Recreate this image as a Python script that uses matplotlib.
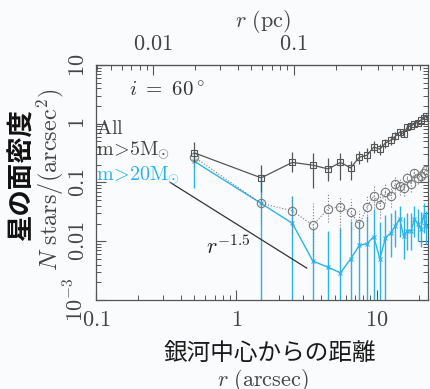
import matplotlib
matplotlib.use("Agg")
import matplotlib.pyplot as plt
import numpy as np
from matplotlib.ticker import FixedLocator, FixedFormatter, LogLocator, NullFormatter

plt.rcParams['mathtext.fontset'] = 'cm'

# Radial bins (arcsec)
r = [0.5, 1.5, 2.5, 3.5, 4.5, 5.5, 6.5, 7.5, 8.5, 9.5, 10.5, 11.5,
     12.5, 13.5, 14.5, 15.5, 16.5, 17.5, 18.5, 19.5, 20.5, 21.5, 22.5]

# All stars
all_n = [0.32, 0.12, 0.22, 0.197, 0.17, 0.22, 0.177, 0.27, 0.29, 0.40, 0.37, 0.47,
         0.52, 0.61, 0.72, 0.68, 0.88, 0.92, 1.0, 1.05, 1.14, 1.25, 1.37]
all_hi = [0.48, 0.20, 0.335, 0.32, 0.265, 0.32, 0.23, 0.34, 0.38, 0.50, 0.46, 0.56,
          0.62, 0.71, 0.83, 0.78, 0.99, 1.03, 1.11, 1.16, 1.25, 1.36, 1.48]
all_lo = [0.22, 0.07, 0.148, 0.082, 0.105, 0.11, 0.11, 0.21, 0.22, 0.32, 0.29, 0.39,
          0.43, 0.52, 0.62, 0.59, 0.78, 0.82, 0.90, 0.95, 1.04, 1.15, 1.27]

# m > 5 Msun
m5_n = [0.27, 0.044, 0.033, 0.0187, 0.036, 0.039, 0.031, 0.0194, 0.038, 0.060, 0.042, 0.068,
        0.059, 0.094, 0.087, 0.081, 0.117, 0.095, 0.146, 0.12, 0.128, 0.146, 0.166]
m5_hi = [0.36, 0.075, 0.06, 0.045, 0.063, 0.06, 0.052, 0.033, 0.06, 0.087, 0.065, 0.095,
         0.082, 0.125, 0.115, 0.105, 0.145, 0.12, 0.175, 0.145, 0.155, 0.172, 0.19]
m5_lo = [0.19, 0.02, 0.014, 0.006, 0.021, 0.012, 0.016, 0.0115, 0.022, 0.037, 0.025, 0.045,
         0.038, 0.066, 0.062, 0.058, 0.088, 0.07, 0.115, 0.094, 0.102, 0.12, 0.142]

# m > 20 Msun
m20_n = [0.23, 0.044, 0.0202, 0.0046, 0.0036, 0.0029, 0.005, 0.0085, 0.0091, 0.012, 0.005, 0.0115,
         0.0137, 0.018, 0.024, 0.0123, 0.015, 0.015, 0.024, 0.020, 0.0164, 0.027, 0.018]
m20_hi = [0.27, 0.12, 0.059, 0.017, 0.015, 0.017, 0.022, 0.022, 0.027, 0.035, 0.021, 0.028,
          0.030, 0.034, 0.040, 0.026, 0.030, 0.030, 0.040, 0.035, 0.031, 0.045, 0.033]
m20_lo = [0.081, 0, 0, 0, 0, 0, 0, 0, 0, 0, 0, 0,
          0.0055, 0.008, 0.012, 0.005, 0.007, 0.007, 0.012, 0.010, 0.008, 0.014, 0.009]

# r^-1.5 reference slope
slope_r = [0.338, 3.16]
slope_n0 = 0.1

pc_per_arcsec = 0.0392

gray = '#555555'
lgray = '#7a7a7a'
cyan = '#2bb3ec'
txt = '#444444'
fs = 16


def err(n, lo, hi):
    n = np.array(n)
    return [n - np.array(lo), np.array(hi) - n]


def style_ticks(a):
    a.tick_params(which='both', direction='in', color=gray, labelcolor=txt, labelsize=fs)
    a.tick_params(which='major', length=7, width=0.8)
    a.tick_params(which='minor', length=3.5, width=0.7)


fig = plt.figure(figsize=(4.3, 3.89), dpi=100, facecolor='#fafbfc')
ax = fig.add_axes([0.2233, 0.2288, 0.7720, 0.6041])
ax.set_facecolor('#fafbfc')
ax.set_xscale('log')
ax.set_yscale('log')

# m>20: cyan with crosses
ax.errorbar(r, m20_n, yerr=err(m20_n, m20_lo, m20_hi), color=cyan, lw=1.0,
            marker='x', ms=3, mew=0.8, elinewidth=1.0, capsize=0, zorder=2)

# m>5: dotted with open circles
e2 = ax.errorbar(r, m5_n, yerr=err(m5_n, m5_lo, m5_hi), color=lgray, lw=0.8, ls=':',
                 marker='o', ms=6, mfc='none', mew=0.8, elinewidth=0.8, capsize=0, zorder=3)
e2[2][0].set_linestyle(':')

# all stars: solid with open squares
ax.errorbar(r, all_n, yerr=err(all_n, all_lo, all_hi), color=gray, lw=0.9,
            marker='s', ms=4, mfc='none', mew=0.8, elinewidth=0.9, capsize=0, zorder=4)

rs = np.array(slope_r)
ax.plot(rs, slope_n0 * (rs / rs[0]) ** -1.5, color='#333333', lw=0.9)
ax.text(0.61, 0.0052, r'$r^{-1.5}$', fontsize=fs, color='#222222', ha='left', va='bottom')

ax.set_xlim(0.1, 23.1)
ax.set_ylim(1e-3, 10)

ax.xaxis.set_major_locator(FixedLocator([0.1, 1, 10]))
ax.xaxis.set_major_formatter(FixedFormatter([r'$\mathrm{0.1}$', r'$\mathrm{1}$', r'$\mathrm{10}$']))
ax.xaxis.set_minor_locator(LogLocator(base=10, subs=np.arange(2, 10), numticks=20))
ax.xaxis.set_minor_formatter(NullFormatter())

ax.yaxis.set_major_locator(FixedLocator([1e-3, 1e-2, 0.1, 1, 10]))
ax.yaxis.set_major_formatter(FixedFormatter([r'$10^{-3}$', r'$\mathrm{0.01}$', r'$\mathrm{0.1}$',
                                             r'$\mathrm{1}$', r'$\mathrm{10}$']))
ax.yaxis.set_minor_locator(LogLocator(base=10, subs=np.arange(2, 10), numticks=20))
ax.yaxis.set_minor_formatter(NullFormatter())

style_ticks(ax)
ax.tick_params(which='both', right=True, top=False)
ax.tick_params(axis='y', labelrotation=90, pad=6)
ax.tick_params(axis='x', pad=7)
for lab in ax.get_yticklabels():
    lab.set_va('center')
for s in ax.spines.values():
    s.set_color(gray)
    s.set_linewidth(0.9)

# parsec scale on top
sec = ax.secondary_xaxis('top', functions=(lambda x: x * pc_per_arcsec,
                                           lambda x: x / pc_per_arcsec))
sec.xaxis.set_major_locator(FixedLocator([0.01, 0.1, 1]))
sec.xaxis.set_major_formatter(FixedFormatter([r'$\mathrm{0.01}$', r'$\mathrm{0.1}$', r'$\mathrm{1}$']))
sec.xaxis.set_minor_locator(LogLocator(base=10, subs=np.arange(2, 10), numticks=20))
sec.xaxis.set_minor_formatter(NullFormatter())
style_ticks(sec)
sec.tick_params(pad=8)
sec.spines['top'].set_color(gray)

ax.text(0.1, 0.865, r'$i\ =\ 60^\circ$', transform=ax.transAxes, fontsize=15, color='#333333')
ax.text(0.0, 0.73, r'$\mathrm{All}$', transform=ax.transAxes, fontsize=14.5, color=txt, va='center')
ax.text(0.0, 0.635, r'$\mathrm{m\!>\!5M}_{\!\!\odot}$', transform=ax.transAxes, fontsize=14.5,
        color=txt, va='center')
ax.text(0.0, 0.53, r'$\mathrm{m\!>\!20M}_{\!\!\odot}$', transform=ax.transAxes, fontsize=14.5,
        color=cyan, va='center')

fig.text(0.117, 0.537, r'$N\ \mathrm{stars/(arcsec^2)}$', rotation=90, fontsize=17.5,
         color=txt, ha='center', va='center')
fig.text(0.612, 0.945, r'$r\ \mathrm{(pc)}$', fontsize=fs, color=txt, ha='center', va='center')
fig.text(0.612, 0.022, r'$r\ \mathrm{(arcsec)}$', fontsize=fs, color=txt, ha='center', va='center')

fig.text(0.051, 0.55, '星の面密度', rotation=90, fontsize=19, fontweight='bold',
         family=['Noto Sans CJK JP', 'DejaVu Sans'], color='#111111', ha='center', va='center')
fig.text(0.628, 0.09, '銀河中心からの距離', fontsize=17, fontweight='regular',
         family=['Noto Sans CJK JP', 'DejaVu Sans'], color='#1a1a1a', ha='center', va='center')

fig.savefig('out.png', dpi=100, facecolor=fig.get_facecolor())
